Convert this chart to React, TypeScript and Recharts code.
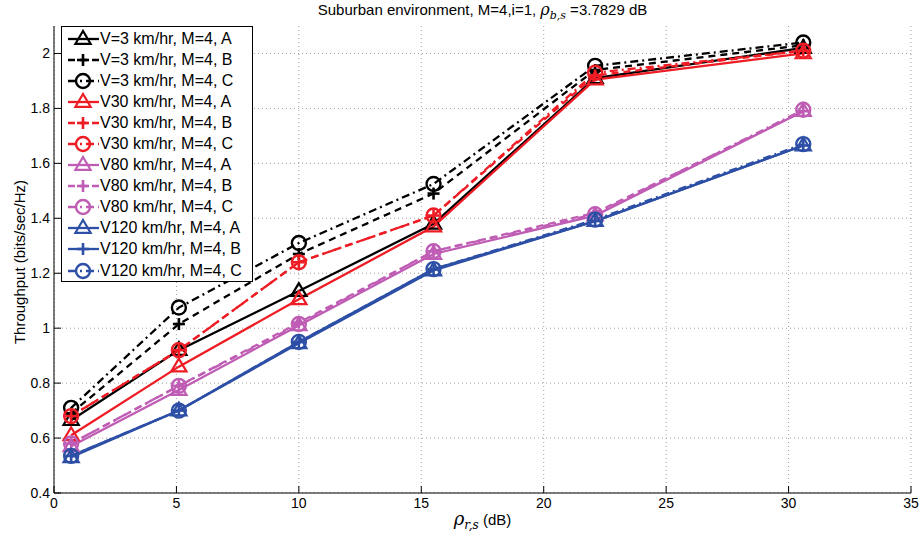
import React from "react";
import { LineChart, Line, XAxis, YAxis, CartesianGrid } from "recharts";

const xValues = [0.7, 5.1, 10, 15.5, 22.1, 30.6];

const v3A = [0.665, 0.92, 1.135, 1.38, 1.91, 2.02];
const v3B = [0.69, 1.015, 1.27, 1.49, 1.94, 2.03];
const v3C = [0.71, 1.075, 1.31, 1.525, 1.955, 2.04];
const v30A = [0.61, 0.86, 1.105, 1.37, 1.905, 2.0];
const v30B = [0.68, 0.92, 1.24, 1.41, 1.92, 2.01];
const v30C = [0.68, 0.92, 1.24, 1.41, 1.93, 2.01];
const v80A = [0.57, 0.775, 1.01, 1.27, 1.41, 1.79];
const v80B = [0.58, 0.79, 1.02, 1.28, 1.42, 1.79];
const v80C = [0.58, 0.79, 1.015, 1.28, 1.415, 1.795];
const v120A = [0.53, 0.7, 0.945, 1.21, 1.39, 1.665];
const v120B = [0.535, 0.7, 0.95, 1.215, 1.39, 1.665];
const v120C = [0.535, 0.7, 0.95, 1.215, 1.395, 1.67];

const xTicks = [0, 5, 10, 15, 20, 25, 30, 35];
const yTicks = [0.4, 0.6, 0.8, 1, 1.2, 1.4, 1.6, 1.8, 2];

const BLACK = "#000000";
const RED = "#EE1C24";
const MAG = "#BF5CB4";
const BLUE = "#2D4FA6";

const DASH = "7 5";
const DASHDOT = "8 4 2 4";

type Marker = "tri" | "plus" | "circ";

const series: { key: string; name: string; values: number[]; color: string; dash?: string; marker: Marker }[] = [
  { key: "s0", name: "V=3 km/hr, M=4, A", values: v3A, color: BLACK, marker: "tri" },
  { key: "s1", name: "V=3 km/hr, M=4, B", values: v3B, color: BLACK, dash: DASH, marker: "plus" },
  { key: "s2", name: "V=3 km/hr, M=4, C", values: v3C, color: BLACK, dash: DASHDOT, marker: "circ" },
  { key: "s3", name: "V30 km/hr, M=4, A", values: v30A, color: RED, marker: "tri" },
  { key: "s4", name: "V30 km/hr, M=4, B", values: v30B, color: RED, dash: DASH, marker: "plus" },
  { key: "s5", name: "V30 km/hr, M=4, C", values: v30C, color: RED, dash: DASHDOT, marker: "circ" },
  { key: "s6", name: "V80 km/hr, M=4, A", values: v80A, color: MAG, marker: "tri" },
  { key: "s7", name: "V80 km/hr, M=4, B", values: v80B, color: MAG, dash: DASH, marker: "plus" },
  { key: "s8", name: "V80 km/hr, M=4, C", values: v80C, color: MAG, dash: DASHDOT, marker: "circ" },
  { key: "s9", name: "V120 km/hr, M=4, A", values: v120A, color: BLUE, marker: "tri" },
  { key: "s10", name: "V120 km/hr, M=4, B", values: v120B, color: BLUE, marker: "plus" },
  { key: "s11", name: "V120 km/hr, M=4, C", values: v120C, color: BLUE, dash: DASHDOT, marker: "circ" },
];

const data = xValues.map((x, i) => {
  const row: Record<string, number> = { x };
  series.forEach((s) => {
    row[s.key] = s.values[i];
  });
  return row;
});

const FONT = '"Liberation Sans", Arial, Helvetica, sans-serif';

function MarkerShape({ cx, cy, type, color }: { cx: number; cy: number; type: Marker; color: string }) {
  if (cx == null || cy == null || isNaN(cx) || isNaN(cy)) return null;
  if (type === "tri") {
    const r = 8;
    const pts = `${cx},${cy - r} ${cx - r * 0.95},${cy + r * 0.6} ${cx + r * 0.95},${cy + r * 0.6}`;
    return <polygon points={pts} fill="none" stroke={color} strokeWidth={2.2} />;
  }
  if (type === "plus") {
    const r = 6;
    return (
      <g stroke={color} strokeWidth={2.6}>
        <line x1={cx - r} x2={cx + r} y1={cy} y2={cy} />
        <line x1={cx} x2={cx} y1={cy - r} y2={cy + r} />
      </g>
    );
  }
  return <circle cx={cx} cy={cy} r={7} fill="none" stroke={color} strokeWidth={2.4} />;
}

const makeDot = (type: Marker, color: string) => (props: any) => (
  <MarkerShape key={props.index} cx={props.cx} cy={props.cy} type={type} color={color} />
);

const XTickBottom = (props: any) => {
  const { x, y, payload } = props;
  return (
    <g>
      <line x1={x} x2={x} y1={y - 4} y2={y - 11} stroke="#000" strokeWidth={1} />
      <text x={x} y={y + 11} textAnchor="middle" fontSize={14} fontFamily={FONT} fill="#000">
        {payload.value}
      </text>
    </g>
  );
};

const XTickTop = (props: any) => {
  const { x, y } = props;
  return <line x1={x} x2={x} y1={y + 4} y2={y + 11} stroke="#000" strokeWidth={1} />;
};

const YTickLeft = (props: any) => {
  const { x, y, payload } = props;
  return (
    <g>
      <line x1={x + 4} x2={x + 11} y1={y} y2={y} stroke="#000" strokeWidth={1} />
      <text x={x} y={y + 5} textAnchor="end" fontSize={14} fontFamily={FONT} fill="#000">
        {String(payload.value)}
      </text>
    </g>
  );
};

const YTickRight = (props: any) => {
  const { x, y } = props;
  return <line x1={x - 4} x2={x - 11} y1={y} y2={y} stroke="#000" strokeWidth={1} />;
};

const LegendBox = () => (
  <div
    style={{
      position: "absolute",
      left: 61,
      top: 26,
      border: "1px solid #000",
      background: "#fff",
      width: 192,
      height: 256,
      boxSizing: "border-box",
      paddingTop: 1,
    }}
  >
    {series.map((s) => (
      <div key={s.key} style={{ display: "flex", alignItems: "center", height: 21.1 }}>
        <svg width={38} height={20} style={{ display: "block", flex: "none" }}>
          <line x1={6} x2={37} y1={10} y2={10} stroke={s.color} strokeWidth={2.3} strokeDasharray={s.dash} />
          <MarkerShape cx={21} cy={10} type={s.marker} color={s.color} />
        </svg>
        <span
          style={{
            fontFamily: FONT,
            fontSize: 16,
            color: "#000",
            whiteSpace: "nowrap",
            lineHeight: "20px",
          }}
        >
          {s.name}
        </span>
      </div>
    ))}
  </div>
);

export default function App() {
  return (
    <div style={{ position: "absolute", left: 0, top: 0, width: 922, height: 536, background: "#fff" }}>
      <LineChart
        width={922}
        height={536}
        data={data}
        margin={{ top: 26, right: 11, bottom: 0, left: 0 }}
      >
        <CartesianGrid
          stroke="#a0a0a0"
          strokeDasharray="1 3"
          horizontalValues={yTicks}
          verticalValues={xTicks}
        />
        <XAxis
          dataKey="x"
          type="number"
          domain={[0, 35]}
          ticks={xTicks}
          height={43}
          tickSize={0}
          tickMargin={4}
          tick={<XTickBottom />}
          axisLine={{ stroke: "#000", strokeWidth: 1 }}
          tickLine={false}
          interval={0}
          allowDataOverflow
        />
        <XAxis
          xAxisId="top"
          orientation="top"
          dataKey="x"
          type="number"
          domain={[0, 35]}
          ticks={xTicks}
          height={0}
          tickSize={0}
          tickMargin={4}
          tick={<XTickTop />}
          axisLine={{ stroke: "#000", strokeWidth: 1 }}
          tickLine={false}
          interval={0}
          allowDataOverflow
        />
        <YAxis
          type="number"
          domain={[0.4, 2.1]}
          ticks={yTicks}
          width={54}
          tickSize={0}
          tickMargin={4}
          tick={<YTickLeft />}
          axisLine={{ stroke: "#000", strokeWidth: 1 }}
          tickLine={false}
          interval={0}
          allowDataOverflow
        />
        <YAxis
          yAxisId="right"
          orientation="right"
          type="number"
          domain={[0.4, 2.1]}
          ticks={yTicks}
          width={0}
          tickSize={0}
          tickMargin={4}
          tick={<YTickRight />}
          axisLine={{ stroke: "#000", strokeWidth: 1 }}
          tickLine={false}
          interval={0}
          allowDataOverflow
        />
        {series.map((s) => (
          <Line
            key={s.key}
            dataKey={s.key}
            name={s.name}
            type="linear"
            stroke={s.color}
            strokeWidth={2.3}
            strokeDasharray={s.dash}
            dot={makeDot(s.marker, s.color)}
            activeDot={false}
            isAnimationActive={false}
          />
        ))}
      </LineChart>
      <LegendBox />
      <div
        style={{
          position: "absolute",
          left: 54,
          width: 857,
          top: 1,
          textAlign: "center",
          fontFamily: FONT,
          fontSize: 15,
          lineHeight: "17px",
          whiteSpace: "nowrap",
        }}
      >
        Suburban environment, M=4,i=1,{" "}
        <span style={{ fontFamily: '"DejaVu Serif", serif', fontStyle: "italic", fontSize: 16, lineHeight: 0 }}>ρ</span>
        <sub style={{ fontFamily: '"DejaVu Serif", serif', fontStyle: "italic", fontSize: 11, lineHeight: 0 }}>b,s</sub> =3.7829 dB
      </div>
      <div
        style={{
          position: "absolute",
          left: 54,
          width: 857,
          top: 510,
          textAlign: "center",
          fontFamily: FONT,
          fontSize: 15,
          lineHeight: "18px",
          whiteSpace: "nowrap",
        }}
      >
        <span style={{ fontFamily: '"DejaVu Serif", serif', fontStyle: "italic", fontSize: 18 }}>ρ</span>
        <sub style={{ fontFamily: '"DejaVu Serif", serif', fontStyle: "italic", fontSize: 12, lineHeight: 0 }}>r,s</sub> (dB)
      </div>
      <div
        style={{
          position: "absolute",
          left: 19,
          top: 262,
          transform: "translate(-50%, -50%) rotate(-90deg)",
          fontFamily: FONT,
          fontSize: 15,
          whiteSpace: "nowrap",
        }}
      >
        Throughput (bits/sec/Hz)
      </div>
    </div>
  );
}
